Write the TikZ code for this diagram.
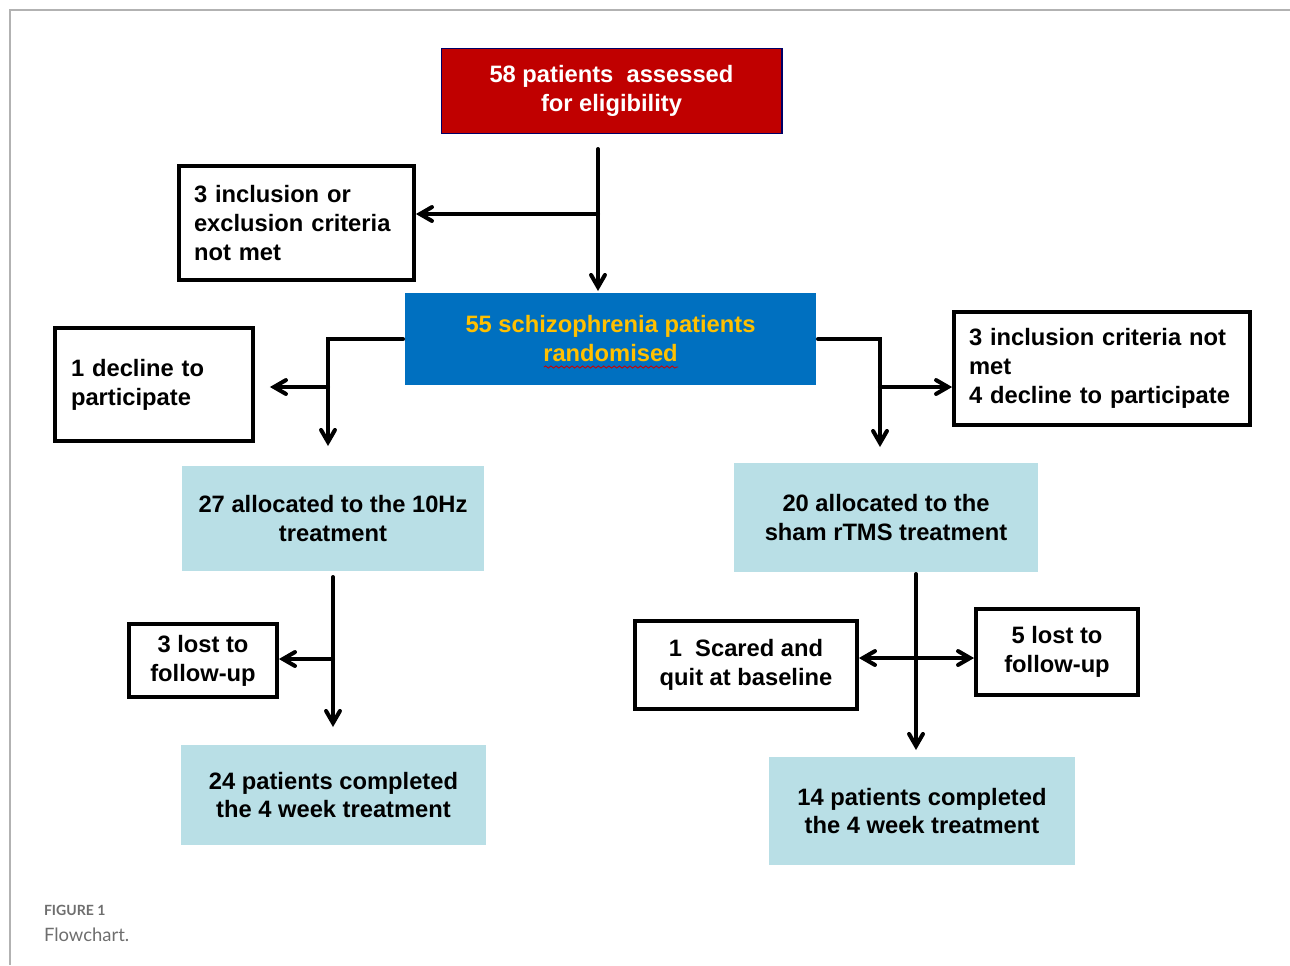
\documentclass[tikz,border=0pt]{standalone}
\usepackage{fontspec}
\setmainfont{Liberation Sans}
\newfontfamily\capfont{Lato}
\usetikzlibrary{arrows,decorations.pathmorphing}
\definecolor{boxred}{RGB}{192,0,0}
\definecolor{boxblue}{RGB}{0,112,192}
\definecolor{boxyellow}{RGB}{255,192,0}
\definecolor{boxcyan}{RGB}{185,223,230}
\definecolor{capgray}{RGB}{110,110,110}
\tikzstyle{redbox} = [draw=blue!40!black, line width=0.6pt, fill=boxred, text=white]
\tikzstyle{bluebox} = [draw=none, fill=boxblue, text=boxyellow]
\tikzstyle{cyanbox} = [draw=none, fill=boxcyan, text=black]
\tikzstyle{outbox} = [draw=black, line width=2.2pt, fill=white, text=black]

\begin{document}
\begin{tikzpicture}[x=0.02cm,y=-0.02cm,->,>=angle 60,line width=2.3pt,line cap=round,
  font=\fontsize{13.5}{16.5}\selectfont\bfseries,
  every node/.style={inner sep=0pt, align=center}]

  \useasboundingbox (0,0) rectangle (1290,965);
  \draw[-, gray!60, line width=0.8pt, line cap=butt] (1290,10) -- (10,10) -- (10,965);

  % boxes
  \node[redbox, minimum width=6.82cm, minimum height=1.7cm] (R) at (611.5,91) {58 patients~ assessed\\for eligibility};
  \node[outbox, minimum width=4.7cm, minimum height=2.28cm, text width=4.1cm, align=left] (C) at (296.5,223) {3 inclusion or\\exclusion criteria\\not met};
  \node[bluebox, minimum width=8.22cm, minimum height=1.84cm] (S) at (610.5,339) {55 schizophrenia patients\\randomised};
  \node[outbox, minimum width=3.96cm, minimum height=2.26cm, text width=3.32cm, align=left] (D) at (154,384.5) {1 decline to\\participate};
  \node[outbox, minimum width=5.92cm, minimum height=2.26cm, text width=5.32cm, align=left] (X) at (1102,368.5) {3 inclusion criteria not\\met\\4 decline to participate};
  \node[cyanbox, minimum width=6.04cm, minimum height=2.1cm] (A1) at (333,518.5) {27 allocated to the 10Hz\\treatment};
  \node[cyanbox, minimum width=6.08cm, minimum height=2.18cm] (A2) at (886,517.5) {20 allocated to the\\sham rTMS treatment};
  \node[outbox, minimum width=2.96cm, minimum height=1.46cm] (L1) at (203,660.5) {3 lost to\\follow-up};
  \node[outbox, minimum width=4.44cm, minimum height=1.76cm] (Q) at (746,665) {1~~Scared and\\quit at baseline};
  \node[outbox, minimum width=3.24cm, minimum height=1.72cm] (L2) at (1057,652) {5 lost to\\follow-up};
  \node[cyanbox, minimum width=6.1cm, minimum height=2cm] (F1) at (333.5,795) {24 patients completed\\the 4 week treatment};
  \node[cyanbox, minimum width=6.12cm, minimum height=2.16cm] (F2) at (922,811) {14 patients completed\\the 4 week treatment};

  % spell check mark
  \draw[-, red!80!black, line width=0.5pt, decorate, decoration={snake, amplitude=0.6pt, segment length=3pt}] (544,367) -- (678,367);

  % junctions
  \coordinate (t1) at (598,214);
  \coordinate (b1) at (328,387);
  \coordinate (a1) at (328,446);
  \coordinate (b2) at (880,387);
  \coordinate (a2) at (880,447);
  \coordinate (t3) at (333,659);
  \coordinate (t4) at (916,658);

  % connectors
  \draw[shorten <=0.3cm] (R.south -| t1) -- (S.north -| t1);
  \draw (t1) -- (C.east |- t1);
  \draw (S.west) -| (a1);
  \draw[shorten >=0.3cm] (b1) -- (D.east |- b1);
  \draw (S.east) -| (a2);
  \draw (b2) -- (X.west |- b2);
  \draw[shorten <=0.08cm, shorten >=0.32cm] (A1.south -| t3) -- (F1.north -| t3);
  \draw (t3) -- (L1.east |- t3);
  \draw[shorten >=0.1cm] (A2.south -| t4) -- (F2.north -| t4);
  \draw (t4) -- (Q.east |- t4);
  \draw (t4) -- (L2.west |- t4);

  % caption
  \node[anchor=west, text=capgray, font=\capfont\bfseries\fontsize{8}{10}\selectfont] (cap) at (42,910) {FIGURE 1};
  \node[anchor=west, text=capgray, font=\capfont\fontsize{10.5}{12}\selectfont] (capt) at (42,935) {Flowchart.};
\end{tikzpicture}
\end{document}
